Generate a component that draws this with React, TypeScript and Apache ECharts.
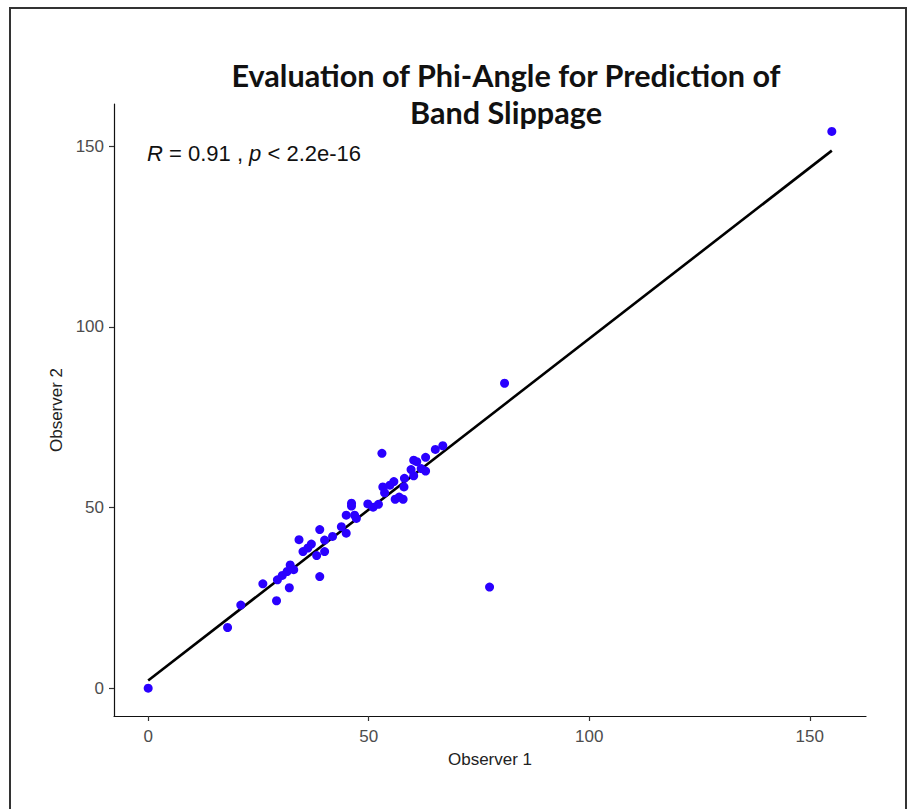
import React, { useEffect, useRef } from "react";
import * as echarts from "echarts";

const titleLines = ["Evaluation of Phi-Angle for Prediction of", "Band Slippage"];
const xAxisTitle = "Observer 1";
const yAxisTitle = "Observer 2";
const tickValues = [0, 50, 100, 150];

const observer1 = [
  0, 18, 21, 26, 29.1, 29.3, 30.4, 31.5, 32.2, 33, 32, 34.2, 35.1, 36.2, 37, 38.2,
  38.9, 38.9, 40, 40, 41.8, 43.8, 44.9, 44.9, 46.1, 46.1, 46.8, 47.2, 49.8, 51,
  52.2, 53, 53.2, 53.6, 54.8, 55.7, 56, 56.9, 57.8, 58, 58.1, 60.2, 59.6, 60.2,
  60.9, 61.9, 62.9, 62.9, 65.1, 66.8, 77.4, 80.8, 155,
];
const observer2 = [
  0, 16.8, 23, 28.9, 24.2, 30, 31.2, 32.3, 34.1, 32.8, 27.8, 41.1, 37.8, 38.8, 39.9, 36.7,
  43.9, 30.9, 37.8, 41, 42, 44.7, 42.9, 47.9, 50.4, 51.2, 47.9, 47, 51, 50.1,
  50.9, 65, 55.7, 54.1, 56.2, 57.2, 52.3, 52.9, 52.3, 55.7, 58.1, 58.8, 60.5, 63.1,
  62.7, 60.8, 60.1, 63.9, 66.1, 67.1, 28, 84.4, 154.1,
];

// fitted regression line end points (x, y)
const fitX = [0, 155];
const fitY = [2.1, 148.8];

const statR = "0.91";
const statP = "2.2e-16";

export default function App() {
  const ref = useRef<HTMLDivElement>(null);

  useEffect(() => {
    if (!ref.current) return;
    const chart = echarts.init(ref.current, null, { renderer: "svg" });
    const points = observer1.map((x, i) => [x, observer2[i]]);
    const fit = fitX.map((x, i) => [x, fitY[i]]);

    chart.setOption({
      animation: false,
      backgroundColor: "#ffffff",
      title: {
        text: titleLines.join("\n"),
        left: 501,
        top: 52,
        textAlign: "center",
        textStyle: {
          fontFamily: "Lato",
          fontWeight: "bold",
          fontSize: 30.6,
          lineHeight: 37,
          color: "#111111",
        },
      },
      grid: { left: 114, right: 46, top: 104, bottom: 93, containLabel: false },
      xAxis: {
        type: "value",
        min: -7.75,
        max: 162.75,
        name: xAxisTitle,
        nameLocation: "middle",
        nameGap: 35,
        nameTextStyle: { fontFamily: "Liberation Sans", fontSize: 17, color: "#222222" },
        splitLine: { show: false },
        axisLine: { show: true, onZero: false, lineStyle: { color: "#111111", width: 1.2 } },
        axisTick: { show: true, length: 5, customValues: tickValues, lineStyle: { color: "#333333", width: 1.2 } },
        axisLabel: {
          customValues: tickValues,
          margin: 12,
          fontFamily: "Liberation Sans",
          fontSize: 17,
          color: "#4d4d4d",
        },
      },
      yAxis: {
        type: "value",
        min: -7.7,
        max: 161.7,
        name: yAxisTitle,
        nameLocation: "middle",
        nameGap: 40,
        nameTextStyle: { fontFamily: "Liberation Sans", fontSize: 17, color: "#222222" },
        splitLine: { show: false },
        axisLine: { show: true, onZero: false, lineStyle: { color: "#111111", width: 1.2 } },
        axisTick: { show: true, length: 5, customValues: tickValues, lineStyle: { color: "#333333", width: 1.2 } },
        axisLabel: {
          customValues: tickValues,
          margin: 10,
          fontFamily: "Liberation Sans",
          fontSize: 17,
          color: "#4d4d4d",
        },
      },
      graphic: [
        {
          type: "rect",
          silent: true,
          shape: { x: 10, y: 8, width: 896, height: 900 },
          style: { fill: "none", stroke: "#333333", lineWidth: 2 },
        },
        {
          type: "text",
          left: 147,
          top: 142,
          style: {
            text: `{i|R} = ${statR} , {i|p} < ${statP}`,
            fontFamily: "Liberation Sans",
            fontSize: 22,
            fill: "#111111",
            rich: {
              i: { fontStyle: "italic", fontFamily: "Liberation Sans", fontSize: 22, fill: "#111111" },
            },
          },
        },
      ],
      series: [
        {
          type: "line",
          data: fit,
          showSymbol: false,
          symbol: "none",
          lineStyle: { color: "#000000", width: 2.6 },
          silent: true,
          z: 2,
        },
        {
          type: "scatter",
          data: points,
          symbolSize: 9,
          itemStyle: { color: "#2a00ff", opacity: 1 },
          z: 3,
        },
      ],
    });

    return () => chart.dispose();
  }, []);

  return (
    <div
      ref={ref}
      style={{ position: "fixed", left: 0, top: 0, width: 912, height: 809, background: "#fff" }}
    />
  );
}
